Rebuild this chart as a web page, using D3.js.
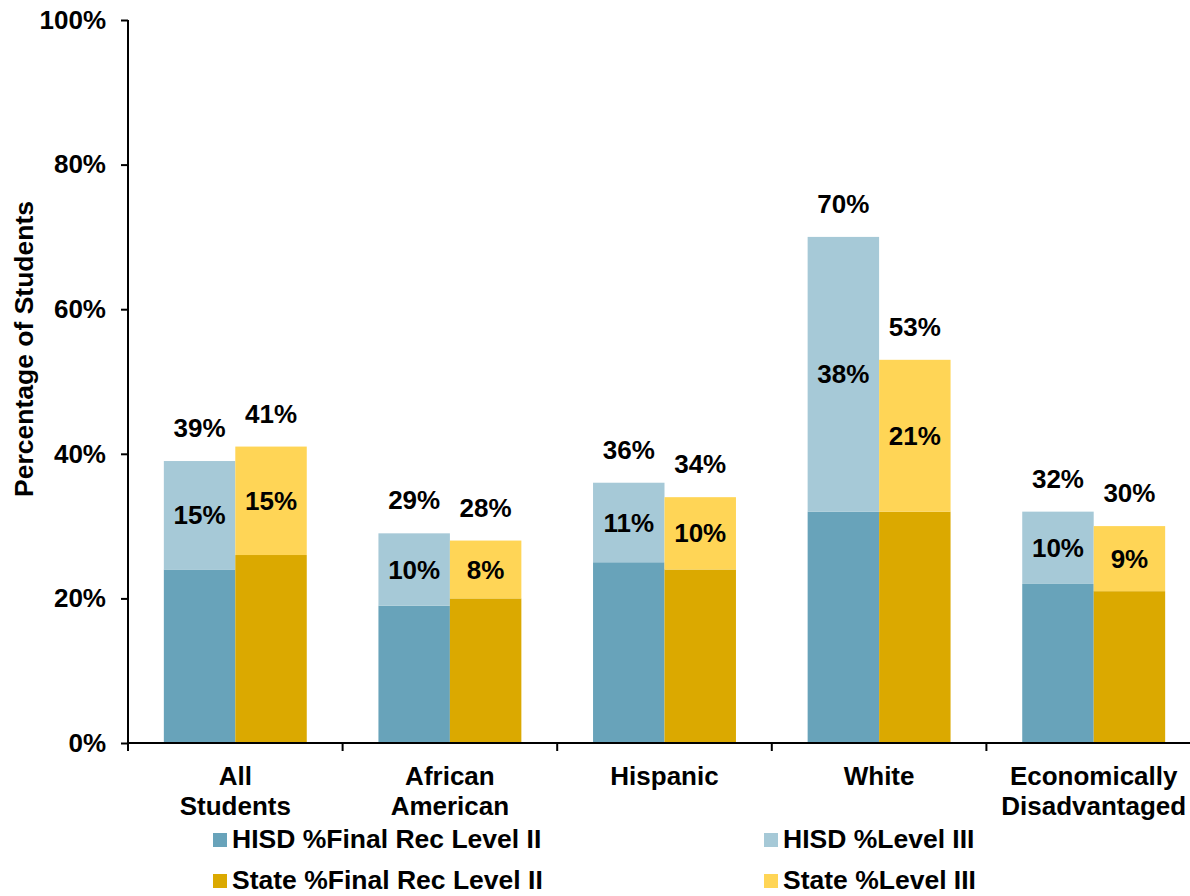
<!DOCTYPE html>
<html>
<head>
<meta charset="utf-8">
<script src="https://cdn.jsdelivr.net/npm/d3@7"></script>
<style>
  body { margin: 0; background: #fff; }
  text { font-family: "Liberation Sans", Arial, sans-serif; font-weight: bold; fill: #000; }
</style>
</head>
<body>
<svg id="chart"></svg>
<script>
var categories = [["All", "Students"], ["African", "American"], ["Hispanic"], ["White"], ["Economically", "Disadvantaged"]];
var hisdLevel2 = [24, 19, 25, 32, 22];
var hisdLevel3 = [15, 10, 11, 38, 10];
var stateLevel2 = [26, 20, 24, 32, 21];
var stateLevel3 = [15, 8, 10, 21, 9];
var yTicks = [0, 20, 40, 60, 80, 100];
var legendLabels = ["HISD %Final Rec Level II", "HISD %Level III", "State %Final Rec Level II", "State %Level III"];

var dimensions = {
  width: 1190,
  height: 896,
  left: 128,
  right: 1201,
  top: 20,
  bottom: 743,
};

var colors = {
  hisd2: "#68a3ba",
  hisd3: "#a6c9d7",
  state2: "#dba900",
  state3: "#ffd556",
};

var fontSize = "26px";

var svg = d3
  .select("#chart")
  .attr("width", dimensions.width)
  .attr("height", dimensions.height);

var idx = d3.range(categories.length);

var xScale = d3
  .scaleBand()
  .domain(idx)
  .range([dimensions.left, dimensions.right]);

var yScale = d3
  .scaleLinear()
  .domain([0, 100])
  .range([dimensions.bottom, dimensions.top]);

var barWidth = xScale.bandwidth() * 0.333;

// one group per category, two stacked bars in each
var groups = [
  { base: hisdLevel2, top: hisdLevel3, c2: colors.hisd2, c3: colors.hisd3, off: -1 },
  { base: stateLevel2, top: stateLevel3, c2: colors.state2, c3: colors.state3, off: 0 },
];

groups.forEach(function (g) {
  var bx = (i) => xScale(i) + xScale.bandwidth() / 2 + g.off * barWidth;

  svg.append("g")
    .selectAll("rect")
    .data(idx)
    .enter()
    .append("rect")
    .attr("x", bx)
    .attr("width", barWidth)
    .attr("y", (i) => yScale(g.base[i]))
    .attr("height", (i) => yScale(0) - yScale(g.base[i]))
    .attr("fill", g.c2);

  svg.append("g")
    .selectAll("rect")
    .data(idx)
    .enter()
    .append("rect")
    .attr("x", bx)
    .attr("width", barWidth)
    .attr("y", (i) => yScale(g.base[i] + g.top[i]))
    .attr("height", (i) => yScale(g.base[i]) - yScale(g.base[i] + g.top[i]))
    .attr("fill", g.c3);

  // label inside the Level III segment
  svg.append("g")
    .selectAll("text")
    .data(idx)
    .enter()
    .append("text")
    .attr("x", (i) => bx(i) + barWidth / 2)
    .attr("y", (i) => yScale(g.base[i] + g.top[i] / 2))
    .attr("dy", "0.35em")
    .attr("text-anchor", "middle")
    .style("font-size", fontSize)
    .text((i) => g.top[i] + "%");

  // total above the bar
  svg.append("g")
    .selectAll("text")
    .data(idx)
    .enter()
    .append("text")
    .attr("x", (i) => bx(i) + barWidth / 2)
    .attr("y", (i) => yScale(g.base[i] + g.top[i]) - 33)
    .attr("dy", "0.35em")
    .attr("text-anchor", "middle")
    .style("font-size", fontSize)
    .text((i) => g.base[i] + g.top[i] + "%");
});

// axes
var yAxisgen = d3.axisLeft(yScale).tickValues(yTicks).tickSize(7).tickFormat((d) => d + "%");
var yAxis = svg
  .append("g")
  .attr("transform", "translate(" + dimensions.left + ",0)")
  .call(yAxisgen);
yAxis.select(".domain").attr("stroke", "#000").attr("stroke-width", 2).attr("d", "M0," + dimensions.top + "V" + dimensions.bottom);
yAxis.selectAll(".tick line").attr("stroke", "#000").attr("stroke-width", 2);
yAxis.selectAll(".tick text").attr("x", -22).style("font-size", fontSize).style("font-family", "Liberation Sans, Arial, sans-serif");

var xAxisgen = d3.axisBottom(xScale).tickSize(0).tickFormat("");
var xAxis = svg
  .append("g")
  .attr("transform", "translate(0," + dimensions.bottom + ")")
  .call(xAxisgen);
xAxis.select(".domain").attr("stroke", "#000").attr("stroke-width", 2).attr("d", "M" + dimensions.left + ",0H" + dimensions.right);

svg.append("g")
  .selectAll("line")
  .data(idx.concat([categories.length]))
  .enter()
  .append("line")
  .attr("x1", (i) => (i < categories.length ? xScale(i) : dimensions.right))
  .attr("x2", (i) => (i < categories.length ? xScale(i) : dimensions.right))
  .attr("y1", dimensions.bottom)
  .attr("y2", dimensions.bottom + 8)
  .attr("stroke", "#000")
  .attr("stroke-width", 2);

// category labels
var catLabels = svg.append("g")
  .selectAll("text")
  .data(idx)
  .enter()
  .append("text")
  .attr("text-anchor", "middle")
  .attr("x", (i) => xScale(i) + xScale.bandwidth() / 2)
  .attr("y", 785)
  .style("font-size", fontSize);

catLabels.each(function (i) {
  var t = d3.select(this);
  categories[i].forEach(function (line, k) {
    t.append("tspan")
      .attr("x", xScale(i) + xScale.bandwidth() / 2)
      .attr("dy", k === 0 ? 0 : 30)
      .text(line);
  });
});

// y axis title
svg.append("text")
  .attr("transform", "translate(33,349) rotate(-90)")
  .attr("text-anchor", "middle")
  .style("font-size", "26.5px")
  .text("Percentage of Students");

// legend
var legendColors = [colors.hisd2, colors.hisd3, colors.state2, colors.state3];
var legendX = [213, 764];
var legendY = [840, 881];

var legend = svg.append("g")
  .selectAll("g")
  .data(legendLabels)
  .enter()
  .append("g")
  .attr("transform", (d, i) => "translate(" + legendX[i % 2] + "," + legendY[Math.floor(i / 2)] + ")");

legend.append("rect")
  .attr("x", 0)
  .attr("y", -7)
  .attr("width", 14)
  .attr("height", 14)
  .attr("fill", (d, i) => legendColors[i]);

legend.append("text")
  .attr("x", 19)
  .attr("y", 8)
  .style("font-size", "26.5px")
  .text((d) => d);
</script>
</body>
</html>
